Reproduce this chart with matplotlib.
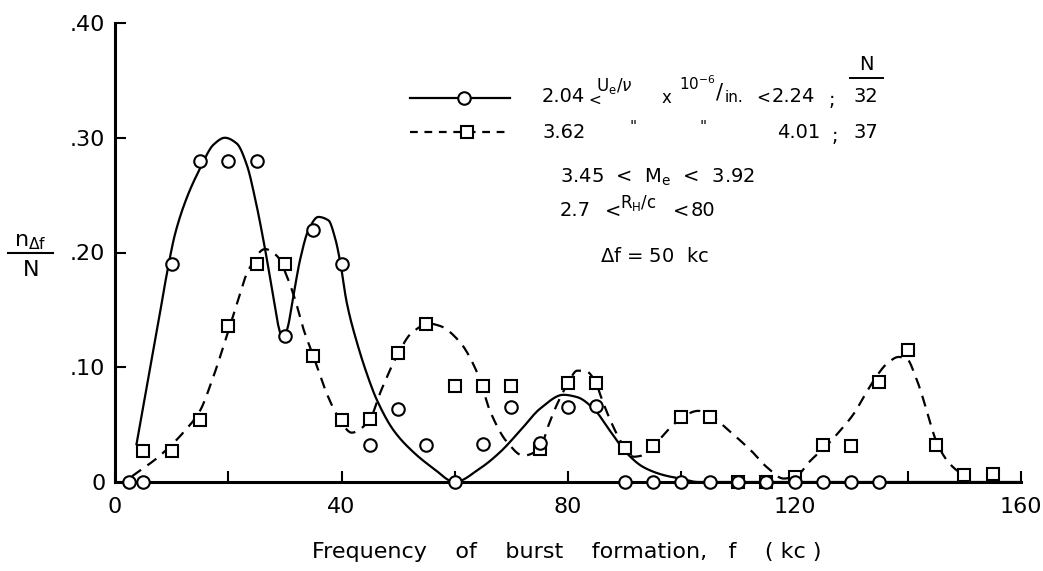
import numpy as np
import matplotlib
matplotlib.use("Agg")
import matplotlib.pyplot as plt
from matplotlib.lines import Line2D

# Measured burst-frequency distributions (n_df / N) vs frequency f (kc)
freq_low = [2.5, 5, 10, 15, 20, 25, 30, 35, 40, 45, 50, 55, 60, 65, 70, 75, 80, 85,
            90, 95, 100, 105, 110, 115, 120, 125, 130, 135]
ratio_low = [0.0, 0.0, 0.19, 0.28, 0.28, 0.28, 0.127, 0.22, 0.19, 0.032, 0.064, 0.032,
             0.0, 0.033, 0.065, 0.034, 0.065, 0.066, 0.0, 0.0, 0.0, 0.0, 0.0, 0.0,
             0.0, 0.0, 0.0, 0.0]

freq_high = [5, 10, 15, 20, 25, 30, 35, 40, 45, 50, 55, 60, 65, 70, 75, 80, 85, 90, 95,
             100, 105, 110, 115, 120, 125, 130, 135, 140, 145, 150, 155]
ratio_high = [0.027, 0.027, 0.054, 0.136, 0.19, 0.19, 0.11, 0.054, 0.055, 0.112, 0.138,
              0.084, 0.084, 0.084, 0.029, 0.086, 0.086, 0.030, 0.031, 0.057, 0.057, 0.0,
              0.0, 0.004, 0.032, 0.031, 0.087, 0.115, 0.032, 0.006, 0.007]

# Faired curves drawn through the data (solid: low Re, dashed: high Re)
fair_low_f = [3.8, 7.65, 9.1, 10.6, 12.7, 15, 17.4, 19.4, 21.5, 23.3, 24.7, 26.5, 28,
              28.9, 29.6, 30.4, 31.5, 32.7, 34.2, 35.9, 37.7, 38.9, 39.8, 40.9, 42.7,
              45, 46.2, 49.2, 52.7, 56.2, 60, 64.5, 68, 71.6, 75.1, 79.2, 81.6, 84.5,
              87.5, 90.4, 93.3, 96.9, 99.8, 103, 160]
fair_low_r = [0.033, 0.139, 0.18, 0.216, 0.248, 0.273, 0.294, 0.30, 0.295, 0.276, 0.248,
              0.203, 0.160, 0.135, 0.125, 0.133, 0.162, 0.194, 0.22, 0.231, 0.228, 0.212,
              0.191, 0.157, 0.122, 0.087, 0.072, 0.045, 0.026, 0.012, 0.0, 0.012, 0.026,
              0.045, 0.064, 0.076, 0.074, 0.064, 0.044, 0.025, 0.013, 0.006, 0.003, 0.0,
              0.0]

fair_high_f = [3, 7.7, 12.4, 15, 17.1, 19.4, 21.2, 23.6, 26.5, 28.6, 30.3, 31.8, 33.3,
               35, 36.2, 37.4, 39.5, 41.8, 44.8, 47.1, 49.8, 52.4, 55.5, 57.4, 60.9,
               63.9, 66.3, 69.2, 72.1, 75, 76.6, 78, 80, 81.6, 83, 85, 85.7, 87.2, 88.6,
               90, 91.6, 93, 95, 98, 100.3, 103, 105.4, 108.6, 112.4, 115.1, 118.1,
               120.5, 122.7, 125.7, 128.1, 130.4, 132.8, 134.6, 136.3, 138.4, 139.9,
               141.3, 142.5, 143.7, 145, 146.9, 148.7, 150]
fair_high_r = [0.005, 0.022, 0.045, 0.062, 0.088, 0.122, 0.150, 0.185, 0.203, 0.197,
               0.18, 0.159, 0.133, 0.11, 0.093, 0.077, 0.056, 0.043, 0.053, 0.081, 0.110,
               0.130, 0.138, 0.136, 0.122, 0.096, 0.061, 0.035, 0.023, 0.029, 0.05,
               0.067, 0.086, 0.097, 0.097, 0.086, 0.076, 0.057, 0.042, 0.03, 0.022,
               0.023, 0.031, 0.047, 0.057, 0.062, 0.057, 0.044, 0.027, 0.013, 0.003,
               0.006, 0.018, 0.032, 0.045, 0.059, 0.079, 0.093, 0.103, 0.109, 0.107,
               0.093, 0.076, 0.056, 0.036, 0.019, 0.010, 0.006]

x_ticks = [0, 20, 40, 60, 80, 100, 120, 140, 160]
x_tick_labels = ["0", "", "40", "", "80", "", "120", "", "160"]
y_ticks = [0, 0.10, 0.20, 0.30, 0.40]
y_tick_labels = ["0", ".10", ".20", ".30", ".40"]


def pchip(x, y, xs):
    """Shape-preserving piecewise cubic through (x, y)."""
    x = np.asarray(x, float)
    y = np.asarray(y, float)
    h = np.diff(x)
    d = np.diff(y) / h
    m = np.zeros_like(y)
    for k in range(1, len(x) - 1):
        if d[k - 1] * d[k] > 0:
            w1 = 2 * h[k] + h[k - 1]
            w2 = h[k] + 2 * h[k - 1]
            m[k] = (w1 + w2) / (w1 / d[k - 1] + w2 / d[k])
    m[0] = d[0]
    m[-1] = d[-1]
    i = np.clip(np.searchsorted(x, xs) - 1, 0, len(h) - 1)
    t = (xs - x[i]) / h[i]
    h00 = 2 * t**3 - 3 * t**2 + 1
    h10 = t**3 - 2 * t**2 + t
    h01 = -2 * t**3 + 3 * t**2
    h11 = t**3 - t**2
    return h00 * y[i] + h10 * h[i] * m[i] + h01 * y[i + 1] + h11 * h[i] * m[i + 1]


W, H = 1043, 571
fig = plt.figure(figsize=(W / 100, H / 100), dpi=100)
fig.patch.set_facecolor("white")


def fx(px):
    return px / W


def fy(py):
    return 1 - py / H


ax = fig.add_axes([fx(115), fy(482), (1021 - 115) / W, (482 - 23) / H])
ax.set_xlim(0, 160)
ax.set_ylim(0, 0.40)
for side in ("top", "right"):
    ax.spines[side].set_visible(False)
for side in ("left", "bottom"):
    ax.spines[side].set_linewidth(2.2)

ax.set_xticks(x_ticks)
ax.set_xticklabels(x_tick_labels)
ax.set_yticks(y_ticks)
ax.set_yticklabels(y_tick_labels)
ax.tick_params(axis="both", direction="in", length=8, width=1.5, labelsize=16)
ax.tick_params(axis="x", pad=11)
ax.tick_params(axis="y", pad=7)

# faired curves
xs = np.linspace(fair_low_f[0], fair_low_f[-1], 2000)
ax.plot(xs, pchip(fair_low_f, fair_low_r, xs), color="black", lw=1.6, zorder=2,
        clip_on=False)
xs = np.linspace(fair_high_f[0], fair_high_f[-1], 2000)
ax.plot(xs, pchip(fair_high_f, fair_high_r, xs), color="black", lw=1.6,
        ls=(0, (5, 3.5)), zorder=2, clip_on=False)

# data points
ax.plot(freq_high, ratio_high, ls="none", marker="s", ms=8, mfc="white", mec="black",
        mew=1.5, zorder=3, clip_on=False)
ax.plot(freq_low, ratio_low, ls="none", marker="o", ms=9, mfc="white", mec="black",
        mew=1.5, zorder=4, clip_on=False)

# key
fig.add_artist(Line2D([fx(410), fx(510)], [fy(98), fy(98)], color="black", lw=1.6))
fig.add_artist(Line2D([fx(464)], [fy(98)], marker="o", ms=9, mfc="white", mec="black",
                      mew=1.5))
fig.add_artist(Line2D([fx(410), fx(510)], [fy(132), fy(132)], color="black", lw=1.6,
                      ls=(0, (3.5, 3))))
fig.add_artist(Line2D([fx(467)], [fy(132)], marker="s", ms=8, mfc="white", mec="black",
                      mew=1.5))


def put(px, py, s, size=14, ha="left", va="center"):
    fig.text(fx(px), fy(py), s, fontsize=size, ha=ha, va=va, color="black")


# row 1
put(542, 96, "2.04")
put(588, 100, "<", 11)
put(596, 86, r"$\mathregular{U_e/}\nu$", 12)
put(662, 98, "x", 12)
put(679, 84, r"$\mathregular{10^{-6}}$", 11)
put(716, 92, "/", 15)
put(725, 98, "in.", 11)
put(756, 98, "<", 12)
put(772, 96, "2.24")
put(829, 100, ";")
put(866, 96, "32", ha="center")
put(866, 64, "N", ha="center")
fig.add_artist(Line2D([fx(850), fx(883)], [fy(78), fy(78)], color="black", lw=1.4))
# row 2
put(542, 132, "3.62")
put(633, 128, '"', 11, ha="center")
put(703, 128, '"', 11, ha="center")
put(777, 132, "4.01")
put(832, 136, ";")
put(866, 132, "37", ha="center")
# flow conditions
put(560, 177, r"3.45  <  M$_\mathregular{e}$  <  3.92")
put(560, 211, "2.7")
put(605, 211, "<", 14)
put(620, 203, r"$\mathregular{R_H/c}$", 12)
put(673, 211, "<", 14)
put(691, 211, "80")
put(655, 257, r"$\Delta$f = 50  kc", ha="center")

# axis titles
put(567, 552, "Frequency    of    burst    formation,   f    ( kc )", 16, ha="center")
put(30, 242, r"$\mathregular{n_{\Delta f}}$", 16, ha="center")
fig.add_artist(Line2D([fx(8), fx(53)], [fy(253), fy(253)], color="black", lw=1.5))
put(31, 270, "N", 16, ha="center")

fig.savefig("out.png", dpi=100, facecolor="white")
